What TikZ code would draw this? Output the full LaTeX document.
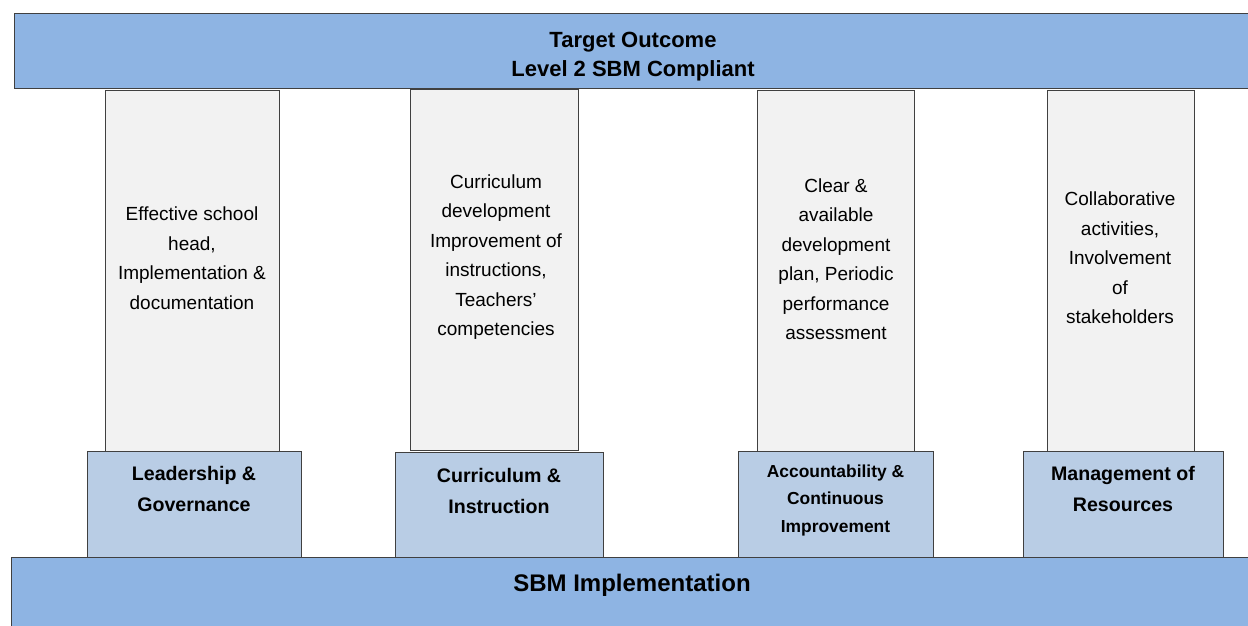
\documentclass[tikz,border=0pt]{standalone}
\usepackage{fontspec}
\setmainfont{Liberation Sans}
\usepackage{tikz}
\definecolor{banner}{HTML}{8EB4E3}
\definecolor{basefill}{HTML}{B9CDE5}
\definecolor{pillarfill}{HTML}{F2F2F2}
\colorlet{edge}{black!75}
\tikzset{
	banner/.style={rectangle,fill=banner,draw=edge,thin,inner sep=0pt},
	pillar/.style={rectangle,fill=pillarfill,draw=edge,thin,inner sep=0pt},
	base/.style={rectangle,fill=basefill,draw=edge,thin,inner sep=0pt},
	pltext/.style={align=center,inner sep=0pt,font=\fontsize{9.5}{14.75}\selectfont},
	basetext/.style={align=center,inner sep=0pt,font=\fontsize{9.8}{15.5}\selectfont\bfseries},
	bannertext/.style={align=center,inner sep=0pt,font=\fontsize{11}{14.5}\selectfont\bfseries},
	}

\begin{document}
\begin{tikzpicture}[x=0.5pt,y=-0.5pt]
 \useasboundingbox (0,0) rectangle (1248,626);

% roof and floor
\node[banner, minimum width=700pt, minimum height=37.5pt, anchor=north west] (roof) at (14,13) {};
\node[banner, minimum width=700pt, minimum height=50pt, anchor=north west] (floor) at (11,557) {};
\node[bannertext] (target) at (633,57) {Target Outcome\\Level 2 SBM Compliant};
\node[bannertext, font=\fontsize{12}{14}\selectfont\bfseries] (sbm) at (632,585) {SBM Implementation};

% pillars
\node[pillar, minimum width=87pt, minimum height=181pt] (p1) at (192,271) {};
\node[pillar, minimum width=84pt, minimum height=180.5pt] (p2) at (494,269.5) {};
\node[pillar, minimum width=78.5pt, minimum height=180.5pt] (p3) at (835.5,270.5) {};
\node[pillar, minimum width=73.5pt, minimum height=180.5pt] (p4) at (1120.5,270.5) {};

\node[pltext] (t1) at (192,258) {Effective school\\head,\\Implementation \&\\documentation};
\node[pltext] (t2) at (496,257) {Curriculum\\development\\Improvement of\\instructions,\\Teachers'\\competencies};
\node[pltext] (t3) at (836,259) {Clear \&\\available\\development\\plan, Periodic\\performance\\assessment};
\node[pltext] (t4) at (1120,258) {Collaborative\\activities,\\Involvement\\of\\stakeholders};

% bases of the pillars
\node[base, minimum width=107pt, minimum height=53pt] (b1) at (194,504) {};
\node[base, minimum width=104pt, minimum height=52.5pt] (b2) at (499,504.5) {};
\node[base, minimum width=97.5pt, minimum height=53pt] (b3) at (835.5,504) {};
\node[base, minimum width=100pt, minimum height=53pt] (b4) at (1123,504) {};

\node[basetext] (l1) at (194,488.5) {Leadership \&\\Governance};
\node[basetext] (l2) at (499,491) {Curriculum \&\\Instruction};
\node[basetext, font=\fontsize{8.7}{13.75}\selectfont\bfseries] (l3) at (835.5,500) {Accountability \&\\Continuous\\Improvement};
\node[basetext] (l4) at (1123,488.5) {Management of\\Resources};
\end{tikzpicture}
\end{document}
